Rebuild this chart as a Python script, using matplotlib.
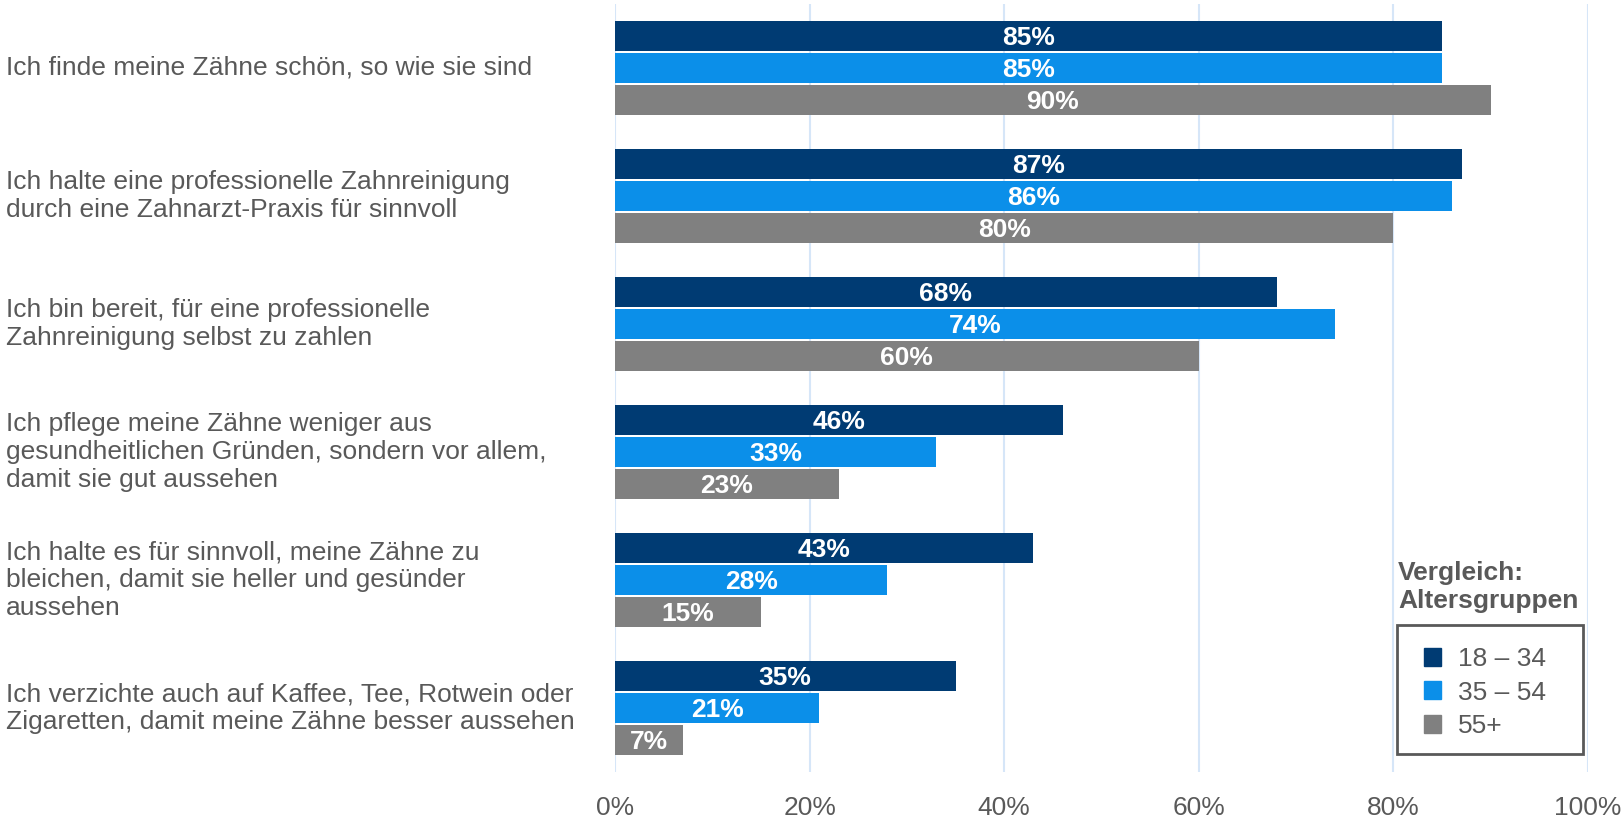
import numpy as np
import matplotlib.pyplot as plt
import matplotlib.patches as mpatches
from matplotlib.transforms import blended_transform_factory

plt.rcParams['font.family'] = ['Liberation Sans', 'DejaVu Sans']

# data
statements = [
    'Ich finde meine Zähne schön, so wie sie sind',
    'Ich halte eine professionelle Zahnreinigung\ndurch eine Zahnarzt-Praxis für sinnvoll',
    'Ich bin bereit, für eine professionelle\nZahnreinigung selbst zu zahlen',
    'Ich pflege meine Zähne weniger aus\ngesundheitlichen Gründen, sondern vor allem,\ndamit sie gut aussehen',
    'Ich halte es für sinnvoll, meine Zähne zu\nbleichen, damit sie heller und gesünder\naussehen',
    'Ich verzichte auch auf Kaffee, Tee, Rotwein oder\nZigaretten, damit meine Zähne besser aussehen',
]
groups = ['18 – 34', '35 – 54', '55+']
age_18_34 = [85, 87, 68, 46, 43, 35]
age_35_54 = [85, 86, 74, 33, 28, 21]
age_55 = [90, 80, 60, 23, 15, 7]
xticks = [0, 20, 40, 60, 80, 100]

colors = ['#003B73', '#0B8FE9', '#808080']
txtcol = '#595959'
fs = 19

fig = plt.figure(figsize=(16.22, 8.18), dpi=100)
ax = fig.add_axes([615/1622, 1-772/818, (1588-615)/1622, (772-4)/818])

y = np.arange(len(statements))
h = 30/128.3
step = 32/128.3
for k, (vals, c) in enumerate(zip([age_18_34, age_35_54, age_55], colors)):
    pos = y + (k-1)*step
    ax.barh(pos, vals, height=h, color=c, zorder=2, label=groups[k])
    for p, v in zip(pos, vals):
        # labels sit slightly below bar centre, like the original
        ax.text(v/2, p + 0.018, f'{v}%', ha='center', va='center', color='white',
                fontsize=fs, fontweight='bold', zorder=3)

ax.set_xlim(0, 100)
ax.set_ylim(5.5, -0.5)
ax.set_xticks(xticks)
ax.set_xticklabels([f'{t}%' for t in xticks], fontsize=fs, color=txtcol)
ax.set_yticks([])
ax.tick_params(axis='x', length=0, pad=17)
for s in ax.spines.values():
    s.set_visible(False)
for t in xticks:
    ax.axvline(t, color='#D6E6F8', lw=1.5, zorder=1)

trans = blended_transform_factory(fig.transFigure, ax.transData)
for i, s in enumerate(statements):
    ax.text(6/1622, i, s, transform=trans, ha='left', va='center', fontsize=fs,
            color=txtcol, linespacing=1.2)

# legend: frame drawn separately so the padding can match the original box
frame = mpatches.Rectangle((1397/1622, 1-754/818), 186/1622, 129/818,
                           transform=fig.transFigure, facecolor='white',
                           edgecolor='#595959', linewidth=2, zorder=4)
fig.patches.append(frame)
handles = [mpatches.Patch(color=c, label=g) for c, g in zip(colors, groups)]
leg = fig.legend(handles=handles, loc='upper left', bbox_to_anchor=(1424/1622, 1-647/818),
                 fontsize=fs, frameon=False, handlelength=0.65,
                 handleheight=0.65, handletextpad=0.65, borderpad=0, labelspacing=0.36,
                 borderaxespad=0)
leg.set_zorder(5)
for t in leg.get_texts():
    t.set_color(txtcol)
fig.text(1398/1622, 1-587/818, 'Vergleich:\nAltersgruppen', ha='left', va='center',
         fontsize=fs, fontweight='bold', color=txtcol, linespacing=1.2)

fig.savefig('out.png', dpi=100)
